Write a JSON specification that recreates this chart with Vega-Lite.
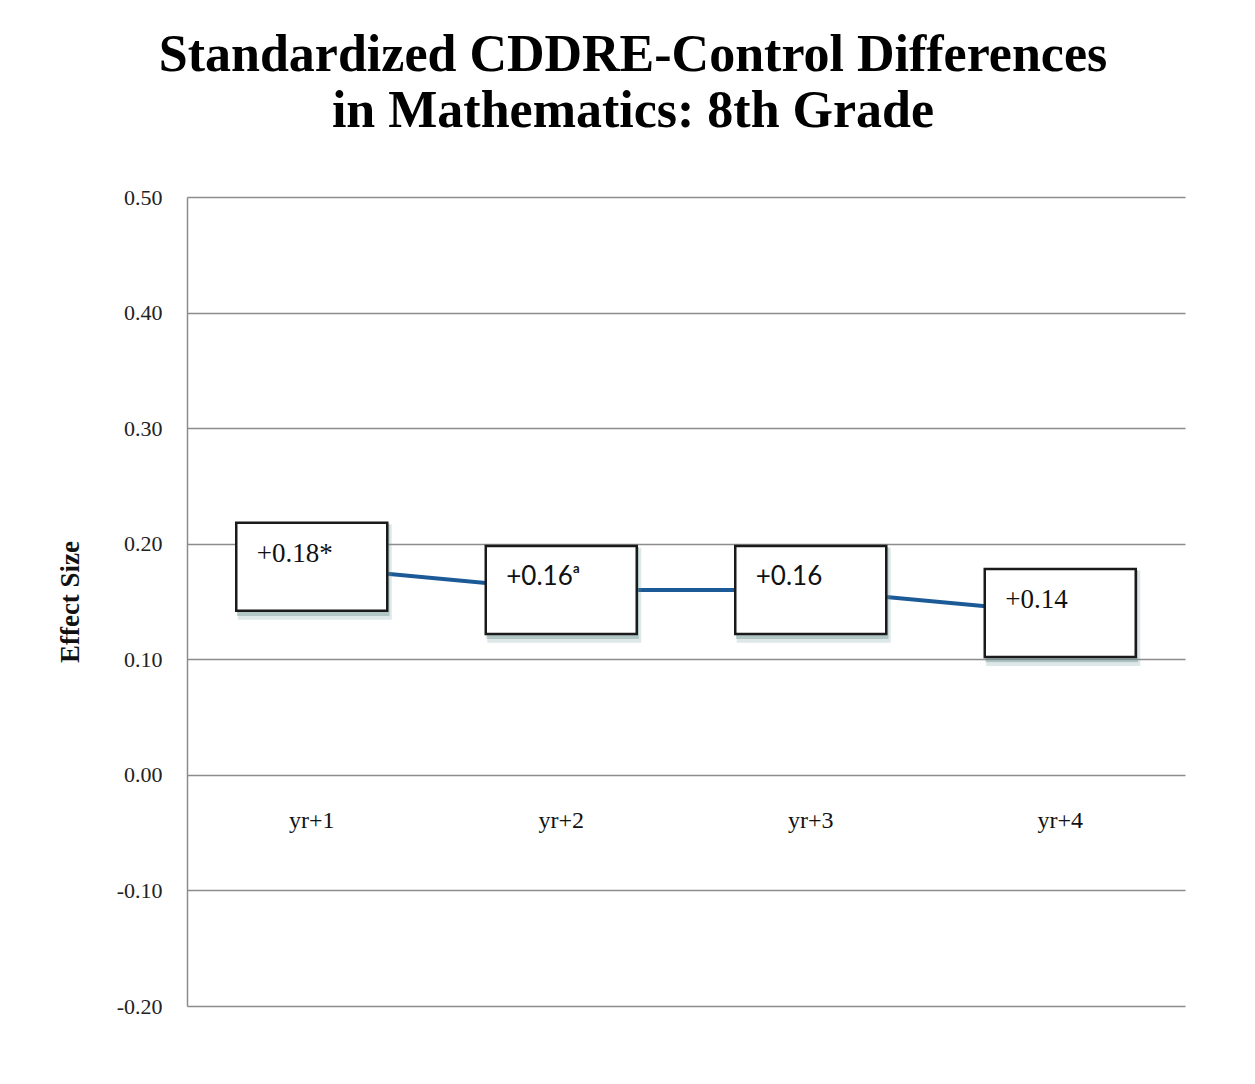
{
  "$schema": "https://vega.github.io/schema/vega-lite/v6.json",
  "width": 998,
  "height": 809,
  "autosize": {"type": "none"},
  "padding": {"left": 187, "top": 197, "right": 70, "bottom": 78},
  "background": "white",
  "config": {"view": {"stroke": null}, "font": "Liberation Serif"},
  "title": {
    "text": ["Standardized CDDRE-Control Differences", "in Mathematics: 8th Grade"],
    "font": "Liberation Serif",
    "fontSize": 52,
    "fontWeight": "bold",
    "color": "#000000",
    "lineHeight": 56,
    "anchor": "middle",
    "dx": -53,
    "offset": 48
  },
  "data": {
    "values": [
      {"period": "yr+1", "value": 0.18, "note": "*"},
      {"period": "yr+2", "value": 0.16, "note": "ᵃ"},
      {"period": "yr+3", "value": 0.16, "note": ""},
      {"period": "yr+4", "value": 0.14, "note": ""}
    ]
  },
  "transform": [
    {"calculate": "'+' + format(datum.value, '.2f') + datum.note", "as": "label"}
  ],
  "encoding": {
    "x": {
      "field": "period",
      "type": "ordinal",
      "scale": {"type": "point", "padding": 0.5},
      "axis": null
    },
    "y": {
      "field": "value",
      "type": "quantitative",
      "scale": {"domain": [-0.2, 0.5], "nice": false, "zero": false},
      "axis": {
        "values": [-0.2, -0.1, 0, 0.1, 0.2, 0.3, 0.4, 0.5],
        "labelExpr": "(datum.value < -0.001 ? '-' : '') + format(abs(datum.value), '.2f')",
        "grid": true,
        "gridColor": "#8c8c8c",
        "gridWidth": 1.5,
        "domainColor": "#8c8c8c",
        "domainWidth": 1.5,
        "ticks": false,
        "labelPadding": 25,
        "labelFont": "Liberation Serif",
        "labelFontSize": 22,
        "labelColor": "#222222",
        "title": "Effect Size",
        "titleFont": "Liberation Serif",
        "titleFontSize": 27,
        "titleFontWeight": "bold",
        "titleColor": "#111111",
        "titlePadding": 32
      }
    }
  },
  "layer": [
    {"mark": {"type": "line", "color": "#1b5a97", "strokeWidth": 4}},
    {
      "mark": {
        "type": "point",
        "shape": "M-0.98,-0.56H1.06V0.7H-0.98Z",
        "filled": true,
        "color": "#6f9494",
        "opacity": 0.22,
        "size": 22801
      }
    },
    {
      "mark": {
        "type": "point",
        "shape": "M-0.99,-0.57H1.03V0.65H-0.99Z",
        "filled": true,
        "color": "#6f9494",
        "opacity": 0.4,
        "size": 22801
      }
    },
    {
      "mark": {
        "type": "point",
        "shape": "M-1,-0.583H1V0.583H-1Z",
        "filled": true,
        "fill": "white",
        "stroke": "#1a1a1a",
        "strokeWidth": 2.5,
        "opacity": 1,
        "size": 22801
      }
    },
    {
      "transform": [{"filter": "datum.period === 'yr+1' || datum.period === 'yr+4'"}],
      "mark": {
        "type": "text",
        "align": "left",
        "baseline": "alphabetic",
        "dx": -55,
        "dy": -5,
        "font": "Liberation Serif",
        "fontSize": 27,
        "color": "#111111"
      },
      "encoding": {"text": {"field": "label"}}
    },
    {
      "transform": [{"filter": "datum.period === 'yr+2' || datum.period === 'yr+3'"}],
      "mark": {
        "type": "text",
        "align": "left",
        "baseline": "alphabetic",
        "dx": -55,
        "dy": -5,
        "font": "Lato",
        "fontSize": 26,
        "color": "#111111"
      },
      "encoding": {"text": {"field": "label"}}
    },
    {
      "mark": {
        "type": "text",
        "baseline": "alphabetic",
        "dy": 53,
        "font": "Liberation Serif",
        "fontSize": 24,
        "color": "#111111"
      },
      "encoding": {"text": {"field": "period"}, "y": {"datum": 0}}
    }
  ]
}
